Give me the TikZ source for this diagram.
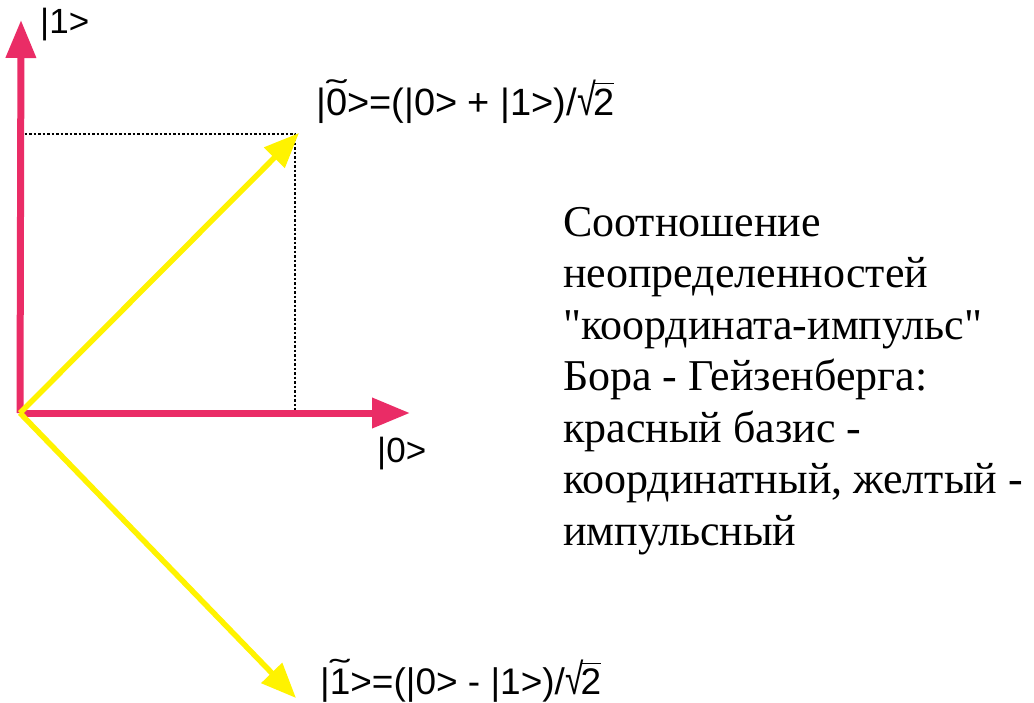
\documentclass[tikz,border=0pt]{standalone}
\usepackage{fontspec}
\usepackage{graphicx}
\setmainfont{Liberation Serif}[Ligatures=TeXOff]
\newfontfamily\lsans{Liberation Sans}[Ligatures=TeXOff]
\usetikzlibrary{arrows.meta}
\definecolor{basisred}{RGB}{234,44,102}
\definecolor{basisyellow}{RGB}{255,243,0}
\newcommand{\tildeover}[1]{\ooalign{#1\cr\hidewidth\raisebox{0.36em}{\scalebox{1.6}[0.8]{\char"02DC}}\hidewidth\cr}}
\newcommand{\sqrtsym}[1]{\raisebox{-0.02em}{\scalebox{0.9}[1.18]{\char"221A}}\kern-0.07em\ensuremath{\overline{\hbox{\raisebox{0pt}[0.8em]{#1}}}}}
\tikzset{
  redvec/.style={draw=basisred, line width=7pt, -{Triangle[length=38pt,width=29pt]}},
  yelvec/.style={draw=basisyellow, line width=5.5pt, -{Triangle[length=35pt,width=28pt]}},
  guide/.style={draw=black, line width=1.3pt, dash pattern=on 2.5pt off 2pt},
  ketlabel/.style={anchor=base west, inner sep=0pt, font=\lsans\fontsize{35}{35}\selectfont},
  eqlabel/.style={anchor=base west, inner sep=0pt, font=\lsans\fontsize{38}{38}\selectfont},
  note/.style={anchor=north west, inner sep=0pt, align=left, font=\fontsize{44}{51.5}\selectfont}
}
\begin{document}
\begin{tikzpicture}[x=1pt,y=-1pt]
\useasboundingbox (0,0) rectangle (1034,702);
\fill[white] (0,0) rectangle (1034,702);
\coordinate (O) at (20,413);
\coordinate (e1) at (21,20);
\coordinate (e0) at (410,413);
\coordinate (p) at (299,133);
\coordinate (m) at (296,698);
\coordinate (c) at (295,134);
\coordinate (cx) at (295,413);
\coordinate (cy) at (20,134);
\draw[guide] (cy) -- (c) -- (cx);
\draw[redvec] (O) -- (e1);
\draw[redvec] (O) -- (e0);
\draw[yelvec] (O) -- (p);
\draw[yelvec] (O) -- (m);
\node[ketlabel] (k1) at (40,33) {|1>};
\node[ketlabel] (k0) at (377,462) {|0>};
\node[eqlabel] (eqp) at (316,115) {|\tildeover{0}>=(|0> + |1>)/\sqrtsym{2}};
\node[eqlabel, font=\lsans\fontsize{37}{37}\selectfont] (eqm) at (320,694) {|\tildeover{1}>=(|0> - |1>)/\sqrtsym{2}};
\node[note] (txt) at (563,207) {Соотношение\\неопределенностей\\"координата-импульс"\\Бора - Гейзенберга:\\красный базис -\\координатный, желтый -\\импульсный};
\end{tikzpicture}
\end{document}
